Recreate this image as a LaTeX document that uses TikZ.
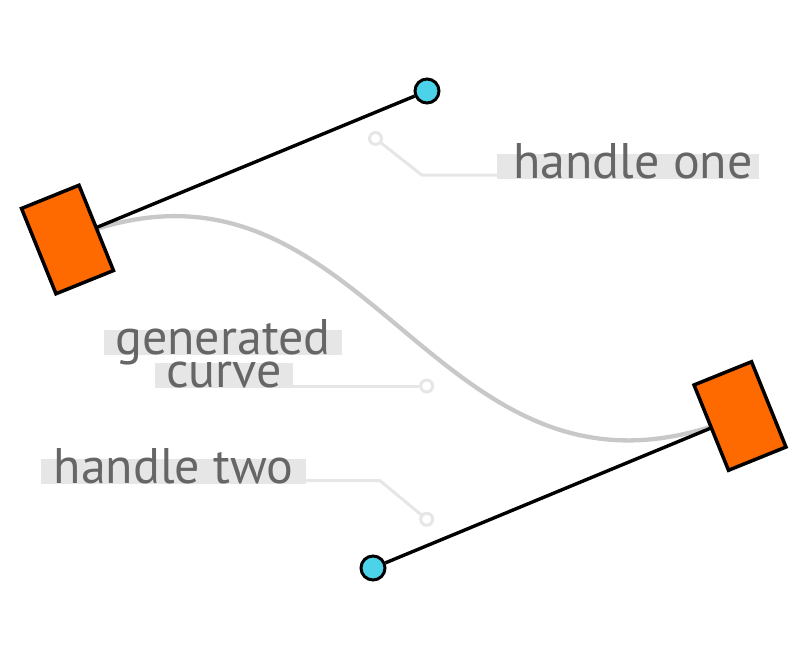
\documentclass[tikz,border=0pt]{standalone}
\usepackage{fontspec}
\newfontfamily\lblfont{PT Sans}
\usetikzlibrary{calc,backgrounds}
\definecolor{orng}{HTML}{FF6A00}
\definecolor{cyn}{HTML}{4CD3EA}
\definecolor{txtgray}{HTML}{666666}
\definecolor{barcol}{HTML}{E6E6E6}
\definecolor{curvecol}{HTML}{C8C8C8}
\definecolor{leadcol}{HTML}{E6E6E6}
\tikzset{
  anchorbox/.style={draw=black, line width=3.5pt, fill=orng, rotate=22,
    minimum width=62pt, minimum height=92pt, inner sep=0pt},
  handleend/.style={circle, draw=black, line width=3pt, fill=cyn,
    minimum size=24pt, inner sep=0pt},
  handleline/.style={draw=black, line width=3.4pt},
  gencurve/.style={draw=curvecol, line width=4.3pt},
  leadline/.style={draw=leadcol, line width=3pt},
  leaddot/.style={circle, draw=leadcol, line width=3pt, fill=white,
    minimum size=12pt, inner sep=0pt},
  lbl/.style={fill=barcol, text=txtgray, font=\lblfont\fontsize{50}{50}\selectfont,
    text height=24.5pt, text depth=0.5pt, inner ysep=0pt, inner xsep=0pt, anchor=base}
}
\begin{document}
\begin{tikzpicture}[x=1pt,y=-1pt]
\useasboundingbox (0,0) rectangle (800,659);
% anchors and handle ends
\node[anchorbox] (r1) at (67.5,239.5) {};
\node[anchorbox] (r2) at (740,416) {};
\node[handleend] (c1) at (427,91) {};
\node[handleend] (c2) at (373,568) {};
\begin{pgfonlayer}{background}
\draw[gencurve] (r1.center) .. controls ($(r1.center)!0.85!(c1)$) and ($(r2.center)!0.85!(c2)$) .. (r2.center);
\draw[handleline] (r1.center) -- (c1);
\draw[handleline] (r2.center) -- (c2);
\end{pgfonlayer}
% labels
\node[lbl, minimum width=262pt] (h1) at (628,178) {\hspace*{10pt}handle one};
\node[lbl, minimum width=238pt] (gen) at (223,354) {generated};
\node[lbl, minimum width=138pt] (cur) at (224,387.5) {curve};
\node[lbl, minimum width=265pt] (h2) at (173.5,483) {handle two};
% leader lines
\node[leaddot] (s1) at (375.5,138.5) {};
\node[leaddot] (s2) at (426.7,386) {};
\node[leaddot] (s3) at (426.7,519.3) {};
\coordinate (k1) at (421.7,175);
\coordinate (k3) at (380,480.7);
\begin{pgfonlayer}{background}
\draw[leadline] (s1) -- (k1) -- (k1 -| h1.west);
\draw[leadline] (s2) -- (s2 -| cur.east);
\draw[leadline] (s3) -- (k3) -- (k3 -| h2.east);
\end{pgfonlayer}
\end{tikzpicture}
\end{document}
